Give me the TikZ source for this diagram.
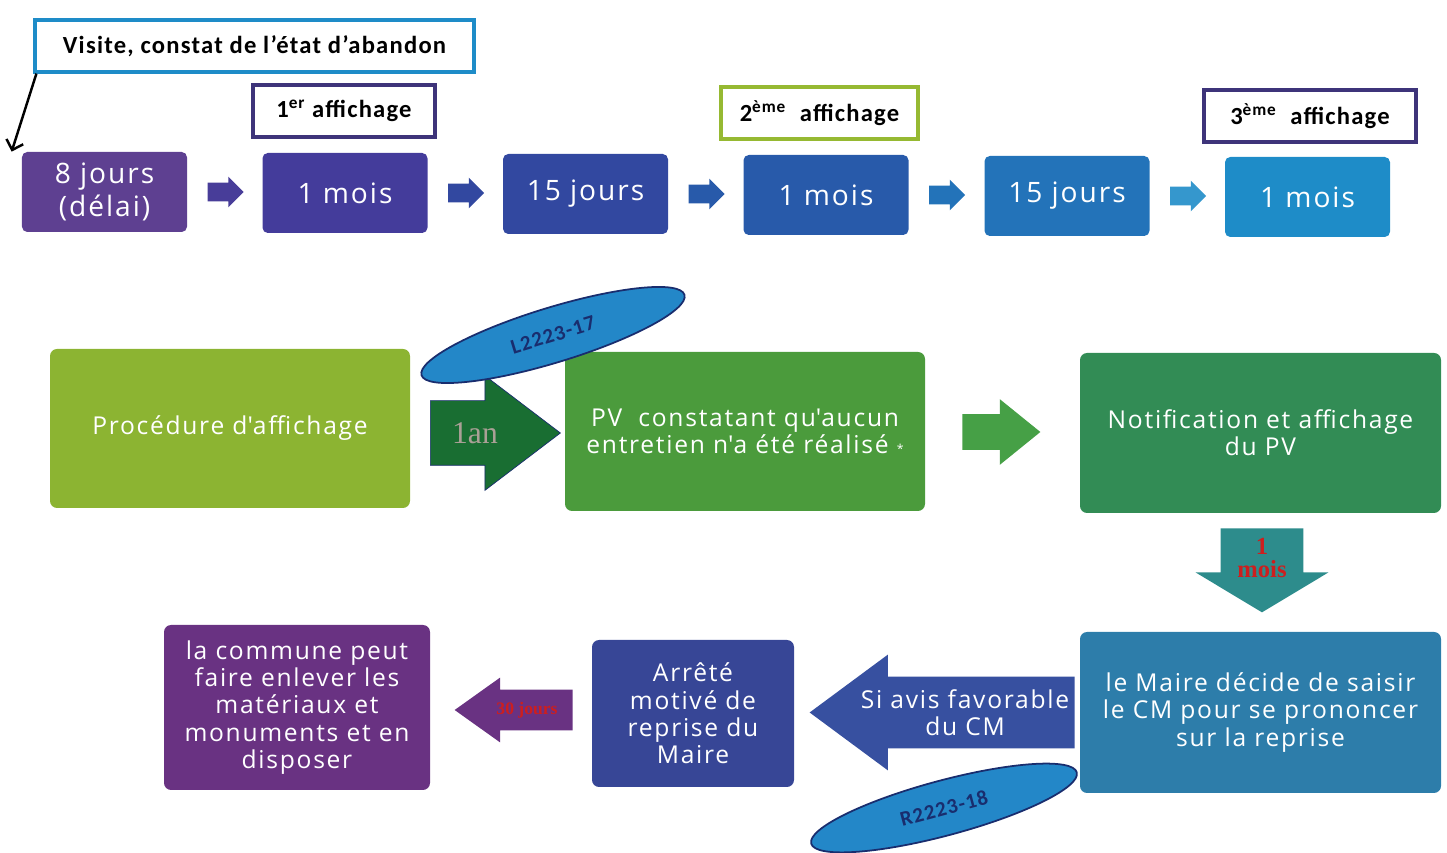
\documentclass[tikz,border=0pt]{standalone}
\usepackage{fontspec}
\setmainfont{Open Sans}[LetterSpace=7]
\newfontfamily\labelfont{Carlito}[LetterSpace=5]
\newfontfamily\seriffont{Liberation Serif}
\usetikzlibrary{shapes.arrows,shapes.geometric,positioning,calc,arrows.meta}
\definecolor{stepone}{RGB}{94, 64, 145}
\definecolor{steptwo}{RGB}{68, 60, 155}
\definecolor{stepthree}{RGB}{50, 72, 160}
\definecolor{stepfour}{RGB}{40, 90, 170}
\definecolor{stepfive}{RGB}{35, 115, 185}
\definecolor{stepsix}{RGB}{30, 140, 200}
\definecolor{visiteblue}{RGB}{30, 140, 200}
\definecolor{tagpurple}{RGB}{62, 52, 122}
\definecolor{taggreen}{RGB}{150, 185, 50}
\definecolor{procgreen}{RGB}{140, 180, 50}
\definecolor{pvgreen}{RGB}{75, 155, 60}
\definecolor{notifgreen}{RGB}{50, 140, 85}
\definecolor{arrowgreen}{RGB}{70, 160, 70}
\definecolor{yeargreen}{RGB}{25, 110, 50}
\definecolor{monthteal}{RGB}{45, 140, 140}
\definecolor{mairesteel}{RGB}{45, 125, 170}
\definecolor{avisblue}{RGB}{55, 80, 160}
\definecolor{arreteblue}{RGB}{55, 70, 150}
\definecolor{communepurple}{RGB}{105, 50, 130}
\definecolor{ovalblue}{RGB}{35, 135, 200}
\definecolor{ovalnavy}{RGB}{25, 45, 110}
\definecolor{alertred}{RGB}{205, 30, 30}
\definecolor{yeartext}{RGB}{170, 160, 150}

\begin{document}
\begin{tikzpicture}[
        stepbox/.style={rectangle, rounded corners=3pt, minimum width=3.3cm, minimum height=1.6cm, text=white, align=center, font=\fontsize{16}{18.5}\selectfont},
        tagbox/.style={rectangle, line width=1.8pt, fill=white, minimum height=1.04cm, font=\labelfont\bfseries\fontsize{14}{16}\selectfont},
        blockbox/.style={rectangle, rounded corners=4pt, text=white, align=center, font=\fontsize{14}{15.5}\selectfont},
        smallarrow/.style={single arrow, anchor=tail, minimum height=0.72cm, minimum width=0.6cm, single arrow head extend=0.12cm, inner xsep=0pt, inner ysep=0.18cm},
        bigarrow/.style={single arrow, anchor=tail, inner xsep=0pt},
        refoval/.style={ellipse, draw=ovalnavy, line width=1pt, fill=ovalblue, minimum width=5.5cm, minimum height=1.1cm, text=ovalnavy, font=\labelfont\bfseries\fontsize{12}{14}\selectfont}
    ]
    \useasboundingbox (0,0) rectangle (28.94,17.06);

    % Timeline
    \node[stepbox, fill=stepone] (jours8) at (2.09, 13.22) {8 jours\\(délai)};
    \node[stepbox, fill=steptwo] (mois1) at (6.9, 13.2) {1 mois};
    \node[stepbox, fill=stepthree] (jours15a) at (11.71, 13.18) {15 jours};
    \node[stepbox, fill=stepfour] (mois2) at (16.52, 13.16) {1 mois};
    \node[stepbox, fill=stepfive] (jours15b) at (21.34, 13.14) {15 jours};
    \node[stepbox, fill=stepsix] (mois3) at (26.15, 13.12) {1 mois};

    \node[smallarrow, fill=steptwo!85!stepone] (ta1) at ([xshift=0.4cm]jours8.east) {};
    \node[smallarrow, fill=stepthree] (ta2) at ([xshift=0.4cm]mois1.east) {};
    \node[smallarrow, fill=stepfour] (ta3) at ([xshift=0.4cm]jours15a.east) {};
    \node[smallarrow, fill=stepfive] (ta4) at ([xshift=0.4cm]mois2.east) {};
    \node[smallarrow, fill=stepsix!90!white] (ta5) at ([xshift=0.4cm]jours15b.east) {};

    % Labels above the timeline
    \node[tagbox, draw=visiteblue, minimum width=8.78cm] (visite) at (5.09, 16.14) {Visite, constat de l’état d’abandon};
    \node[tagbox, draw=tagpurple, minimum width=3.64cm] (aff1) at (6.88, 14.84) {1\textsuperscript{er} affichage};
    \node[tagbox, draw=taggreen, minimum width=3.94cm] (aff2) at (16.39, 14.8) {2\textsuperscript{ème}\ \ affichage};
    \node[tagbox, draw=tagpurple, minimum width=4.24cm] (aff3) at (26.2, 14.74) {3\textsuperscript{ème}\ \ affichage};
    \draw[-{Straight Barb[length=5pt,width=10pt]}, line width=1.4pt] ([xshift=0.06cm]visite.south west) -- ([xshift=-0.2cm]jours8.north west);

    % Procedure
    \node[blockbox, fill=procgreen, minimum width=7.2cm, minimum height=3.18cm] (proc) at (4.6, 8.49) {Procédure d\textquotesingle{}affichage};
    \node[blockbox, fill=pvgreen, minimum width=7.2cm, minimum height=3.18cm] (pv) at (14.9, 8.43) {PV\ \ constatant qu\textquotesingle{}aucun\\entretien n\textquotesingle{}a été réalisé {\scriptsize *}};
    \node[blockbox, fill=notifgreen, minimum width=7.22cm, minimum height=3.2cm] (notif) at (25.21, 8.4) {Notification et affichage\\du PV};
    \node[blockbox, fill=mairesteel, minimum width=7.22cm, minimum height=3.22cm] (maire) at (25.21, 2.81) {le Maire décide de saisir\\le CM pour se prononcer\\sur la reprise};
    \node[blockbox, fill=arreteblue, minimum width=4.04cm, minimum height=2.94cm] (arrete) at (13.86, 2.79) {Arrêté\\motivé de\\reprise du\\Maire};
    \node[blockbox, fill=communepurple, minimum width=5.32cm, minimum height=3.3cm] (commune) at (5.94, 2.91) {la commune peut\\faire enlever les\\matériaux et\\monuments et en\\disposer};

    % Block arrows
    \node[bigarrow, fill=yeargreen, draw=ovalnavy, inner ysep=0.64cm, minimum height=2.6cm, minimum width=2.28cm, single arrow head extend=0.5cm, single arrow tip angle=74.5] (an) at (8.6, 8.4) {};
    \node[font=\seriffont\fontsize{18}{20}\selectfont, text=yeartext] (antext) at ([xshift=0.9cm]an.tail) {1an};
    \node[bigarrow, fill=arrowgreen, inner ysep=0.35cm, minimum height=1.56cm, minimum width=1.3cm, single arrow head extend=0.3cm, single arrow tip angle=78] (pvnotif) at (19.24, 8.42) {};
    \node[bigarrow, fill=monthteal, shape border rotate=270, inner xsep=0.82cm, inner ysep=0pt, minimum height=1.68cm, minimum width=2.64cm, single arrow head extend=0.5cm, single arrow tip angle=118] (unmois) at (25.24, 6.5) {};
    \node[font=\seriffont\bfseries\fontsize{14}{13}\selectfont, text=alertred, align=center] (unmoistext) at ([yshift=-0.6cm]unmois.tail) {1\\mois};
    \node[bigarrow, fill=avisblue, shape border rotate=180, inner ysep=0.71cm, minimum height=5.3cm, minimum width=2.3cm, single arrow head extend=0.44cm, single arrow tip angle=73] (avis) at (21.5, 2.81) {};
    \node[text=white, align=center, font=\fontsize{14}{15.5}\selectfont] (avistext) at ([xshift=-2.2cm]avis.tail) {Si avis favorable\\du CM};
    \node[bigarrow, fill=communepurple, shape border rotate=180, inner ysep=0.4cm, minimum height=2.36cm, minimum width=1.28cm, single arrow head extend=0.24cm, single arrow tip angle=71] (trente) at (11.46, 2.86) {};
    \node[font=\seriffont\bfseries\fontsize{10}{11}\selectfont, text=alertred] (trentetext) at ([xshift=-0.92cm]trente.tail) {30 jours};

    % Legal references
    \node[refoval, rotate=17] (lref) at (11.06, 10.36) {L2223-17};
    \node[refoval, rotate=15] (rref) at (18.88, 0.9) {R2223-18};

\end{tikzpicture}
\end{document}
